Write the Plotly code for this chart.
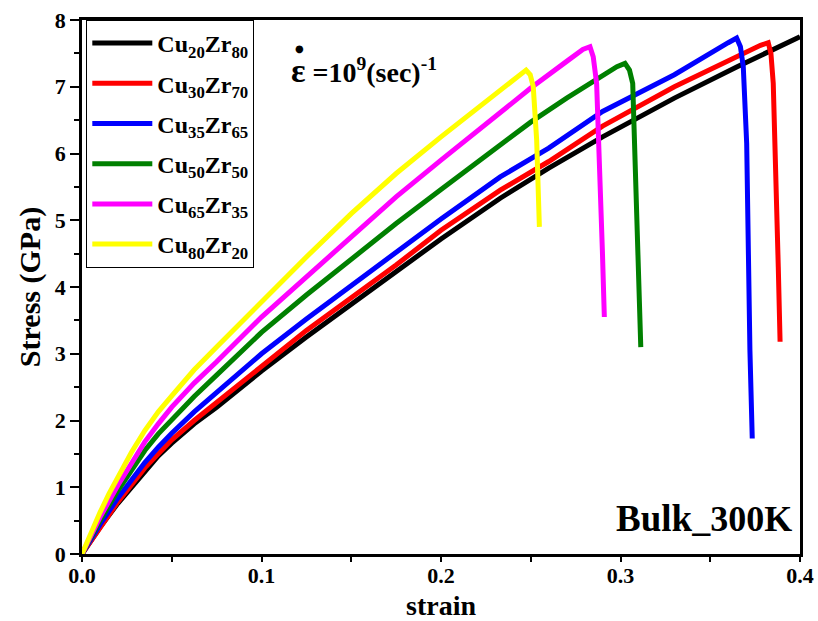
import plotly.graph_objects as go

# Stress-strain data (strain, stress in GPa) for each Cu-Zr composition
cu20zr80_strain = [0, 0.005, 0.01, 0.02, 0.035, 0.0425, 0.05, 0.0625, 0.075, 0.1, 0.125, 0.15, 0.175, 0.2, 0.233, 0.26, 0.29, 0.33, 0.365, 0.4]
cu20zr80_stress = [0, 0.2, 0.4, 0.76, 1.25, 1.47, 1.66, 1.95, 2.2, 2.74, 3.25, 3.74, 4.22, 4.72, 5.33, 5.78, 6.25, 6.83, 7.3, 7.75]

cu30zr70_strain = [0, 0.005, 0.01, 0.02, 0.035, 0.0425, 0.05, 0.0625, 0.075, 0.1, 0.125, 0.15, 0.175, 0.2, 0.233, 0.26, 0.29, 0.33, 0.365, 0.378, 0.3823, 0.3838, 0.3851, 0.3866, 0.3879, 0.3889]
cu30zr70_stress = [0, 0.2, 0.41, 0.78, 1.29, 1.51, 1.71, 2.0, 2.27, 2.83, 3.35, 3.84, 4.33, 4.85, 5.45, 5.88, 6.41, 7.0, 7.46, 7.62, 7.66, 7.5, 7.05, 5.8, 4.3, 3.18]

cu35zr65_strain = [0, 0.005, 0.01, 0.02, 0.035, 0.0425, 0.05, 0.0625, 0.075, 0.1, 0.125, 0.15, 0.175, 0.2, 0.233, 0.26, 0.29, 0.33, 0.36, 0.3647, 0.3668, 0.3684, 0.3703, 0.3712, 0.3721, 0.3734]
cu35zr65_stress = [0, 0.22, 0.44, 0.84, 1.37, 1.6, 1.81, 2.13, 2.42, 3.0, 3.52, 4.02, 4.53, 5.02, 5.65, 6.08, 6.63, 7.18, 7.66, 7.73, 7.6, 7.3, 6.15, 4.4, 3.05, 1.73]

cu50zr50_strain = [0, 0.005, 0.01, 0.02, 0.035, 0.0425, 0.05, 0.0625, 0.075, 0.1, 0.125, 0.15, 0.175, 0.2, 0.233, 0.25, 0.27, 0.2886, 0.298, 0.3025, 0.305, 0.3068, 0.3081, 0.3094, 0.3113]
cu50zr50_stress = [0, 0.25, 0.5, 0.95, 1.55, 1.8, 2.02, 2.36, 2.68, 3.32, 3.88, 4.42, 4.95, 5.46, 6.13, 6.47, 6.83, 7.13, 7.3, 7.35, 7.25, 7.05, 6.05, 4.55, 3.1]

cu65zr35_strain = [0, 0.005, 0.01, 0.02, 0.035, 0.0425, 0.05, 0.0625, 0.075, 0.1, 0.125, 0.15, 0.175, 0.2, 0.225, 0.25, 0.27, 0.279, 0.283, 0.2848, 0.2867, 0.2886, 0.2899, 0.291]
cu65zr35_stress = [0, 0.28, 0.55, 1.03, 1.68, 1.95, 2.2, 2.56, 2.88, 3.55, 4.15, 4.75, 5.35, 5.9, 6.45, 6.98, 7.38, 7.56, 7.6, 7.45, 7.05, 5.8, 4.55, 3.55]

cu80zr20_strain = [0, 0.005, 0.01, 0.015, 0.02, 0.0275, 0.035, 0.0425, 0.05, 0.0625, 0.075, 0.1, 0.125, 0.15, 0.175, 0.2, 0.225, 0.24, 0.2474, 0.2497, 0.2514, 0.2533, 0.2542, 0.2548]
cu80zr20_stress = [0, 0.32, 0.62, 0.9, 1.16, 1.52, 1.85, 2.13, 2.37, 2.76, 3.1, 3.78, 4.45, 5.1, 5.7, 6.25, 6.78, 7.1, 7.25, 7.18, 7.0, 6.2, 5.55, 4.9]

series = [
    ("Cu<sub>20</sub>Zr<sub>80</sub>", cu20zr80_strain, cu20zr80_stress, "#000000"),
    ("Cu<sub>30</sub>Zr<sub>70</sub>", cu30zr70_strain, cu30zr70_stress, "#ff0000"),
    ("Cu<sub>35</sub>Zr<sub>65</sub>", cu35zr65_strain, cu35zr65_stress, "#0000ff"),
    ("Cu<sub>50</sub>Zr<sub>50</sub>", cu50zr50_strain, cu50zr50_stress, "#008000"),
    ("Cu<sub>65</sub>Zr<sub>35</sub>", cu65zr35_strain, cu65zr35_stress, "#ff00ff"),
    ("Cu<sub>80</sub>Zr<sub>20</sub>", cu80zr20_strain, cu80zr20_stress, "#ffff00"),
]

x_ticks = [0.0, 0.1, 0.2, 0.3, 0.4]
x_tick_labels = ["0.0", "0.1", "0.2", "0.3", "0.4"]
y_ticks = [0, 1, 2, 3, 4, 5, 6, 7, 8]

SERIF = "Liberation Serif"

fig = go.Figure()
for i, (name, xs, ys, color) in enumerate(series):
    fig.add_trace(go.Scatter(
        x=xs, y=ys, name=name, mode="lines", legendgroup=f"g{i}",
        line=dict(color=color, width=5),
    ))

axis_common = dict(
    showline=True, linecolor="black", linewidth=2.5, mirror=True,
    showgrid=False, zeroline=False, automargin=False,
    tickfont=dict(family=SERIF, size=22, color="black", weight="bold"),
)

# labelled x positions carry no tick mark; short marks sit halfway between them
fig.update_xaxes(
    range=[0, 0.4], tickvals=x_ticks, ticktext=x_tick_labels,
    ticks="outside", ticklen=0, tickwidth=0,
    minor=dict(dtick=0.05, tick0=0, ticks="outside", ticklen=5, tickwidth=2, tickcolor="black"),
    title=dict(text="<b>strain</b>", font=dict(family=SERIF, size=28, color="black"), standoff=10),
    **axis_common,
)
fig.update_yaxes(
    range=[0, 8], tickvals=y_ticks,
    ticks="outside", ticklen=9, tickwidth=2, tickcolor="black",
    minor=dict(dtick=0.5, tick0=0, ticks="outside", ticklen=5, tickwidth=2, tickcolor="black"),
    title=dict(text="<b>Stress (GPa)</b>", font=dict(family=SERIF, size=30, color="black"), standoff=6),
    **axis_common,
)

# strain-rate label: epsilon with an overdot
fig.add_annotation(
    xref="paper", yref="paper", x=0.288, y=0.905, xanchor="left", yanchor="middle",
    text="<b><span style='font-size:34px'>\u03b5</span> =10<sup>9</sup>(sec)<sup>-1</sup></b>",
    showarrow=False, font=dict(family=SERIF, size=28, color="black"),
)
fig.add_annotation(
    xref="paper", yref="paper", x=0.3025, y=0.947, xanchor="center", yanchor="middle",
    text="\u25cf", showarrow=False, font=dict(family="DejaVu Sans", size=10, color="black"),
)
fig.add_annotation(
    xref="paper", yref="paper", x=0.992, y=0.025, xanchor="right", yanchor="bottom",
    text="<b>Bulk<span style='font-size:36px'>_300K</span></b>",
    showarrow=False, font=dict(family=SERIF, size=37, color="black"),
)

fig.update_layout(
    width=818, height=621,
    margin=dict(l=82, r=18, t=20, b=67),
    paper_bgcolor="white", plot_bgcolor="white",
    showlegend=True,
    legend=dict(
        x=0.006, y=1.0, xanchor="left", yanchor="top",
        bordercolor="black", borderwidth=1, bgcolor="white",
        font=dict(family=SERIF, size=24, color="black", weight="bold"),
        itemwidth=60, tracegroupgap=6,
    ),
)

fig.write_html("out.html")
